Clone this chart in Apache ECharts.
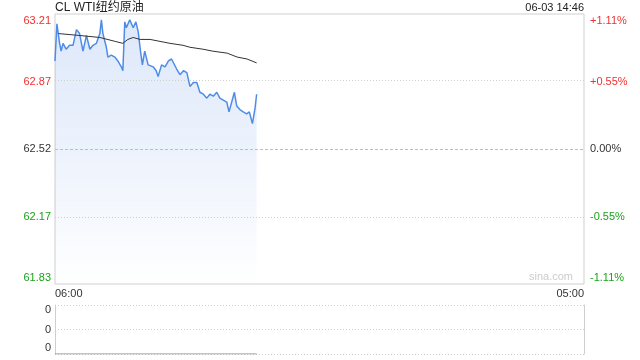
<!DOCTYPE html>
<html><head><meta charset="utf-8">
<script src="https://cdn.jsdelivr.net/npm/echarts@6/dist/echarts.min.js"></script>
<style>html,body{margin:0;padding:0;background:#fff}#c{width:640px;height:360px}</style>
</head><body><div id="c"></div>
<script>
// ---- data ----
const titleText = 'CL WTI纽约原油';
const stampText = '06-03 14:46';
const xLabels = ['06:00', '05:00'];
const priceLabels = ['61.83', '62.17', '62.52', '62.87', '63.21'];
const pctLabels = ['-1.11%', '-0.55%', '0.00%', '+0.55%', '+1.11%'];
const priceMin = 61.83, priceMax = 63.21, prevClose = 62.52;
const volLabels = ['0', '0', '0'];
const times = ['06:00','06:05','06:08','06:12','06:16','06:21','06:29','06:38','06:47','06:56','07:00','07:04','07:13','07:22','07:31','07:39','07:48','07:57','08:01','08:05','08:14','08:18','08:27','08:36','08:44','08:53','08:57','09:02','09:06','09:15','09:24','09:31','09:37','09:43','09:48','09:54','10:03','10:16','10:24','10:29','10:38','10:47','10:56','11:04','11:09','11:17','11:26','11:35','11:44','11:52','12:01','12:10','12:18','12:27','12:36','12:44','12:53','13:02','13:10','13:19','13:28','13:34','13:41','13:48','13:54','14:03','14:11','14:20','14:27','14:35','14:42','14:46'];
const prices = [62.97,63.16,63.17,63.06,63.02,63.06,63.03,63.05,63.05,63.13,63.14,63.11,63.02,63.10,63.03,63.05,63.06,63.11,63.18,63.11,63.04,62.99,63.00,62.99,62.97,62.94,62.92,63.17,63.14,63.18,63.14,63.17,63.12,63.02,62.95,63.02,62.95,62.94,62.92,62.89,62.95,62.94,62.97,62.98,62.99,62.93,62.90,62.92,62.91,62.84,62.86,62.86,62.81,62.80,62.78,62.80,62.79,62.81,62.78,62.77,62.76,62.71,62.76,62.81,62.74,62.72,62.71,62.70,62.71,62.65,62.73,62.80];
const avgTimes = ['06:09','07:05','07:57','08:37','08:57','09:10','09:24','09:42','10:08','11:00','11:34','11:52','12:26','12:52','13:29','13:55','14:21','14:46'];
const avgPrices = [63.11,63.10,63.09,63.07,63.06,63.08,63.09,63.08,63.08,63.06,63.05,63.04,63.03,63.02,63.01,62.99,62.98,62.96];
const volTimes = ['06:00', '14:46'];
const volValues = [0, 0];

// ---- helpers ----
function toMin(t) { const p = t.split(':').map(Number); let m = p[0] * 60 + p[1] - 360; if (m < 0) m += 1440; return m; }
const sessionLen = toMin('05:00');
const step = (priceMax - priceMin) / (priceLabels.length - 1);
const tickVals = priceLabels.map((_, i) => priceMin + i * step);
const idxOf = v => Math.round((v - priceMin) / step);
const FONT = 'Arial, "Liberation Sans", "Noto Sans CJK SC", sans-serif';
const RED = '#f23030', GREEN = '#1aa31a', DARK = '#333';

function labelRich(color) {
  return { fontSize: 11, fontFamily: FONT, color: color };
}
const rich = {
  rt: Object.assign(labelRich(RED), { padding: [13, 0, 0, 0] }),
  r: labelRich(RED),
  k: labelRich(DARK),
  g: labelRich(GREEN),
  gb: Object.assign(labelRich(GREEN), { padding: [0, 0, 13, 0] })
};
function styled(arr) {
  return function (v) {
    const i = idxOf(v); const s = arr[i];
    const n = arr.length - 1;
    if (i === n) return '{rt|' + s + '}';
    if (i === 0) return '{gb|' + s + '}';
    if (i === n / 2) return '{k|' + s + '}';
    return i > n / 2 ? '{r|' + s + '}' : '{g|' + s + '}';
  };
}

const dotted = { color: '#cfcfcf', width: 1, type: [1, 2] };
const gridLines = tickVals.slice(1, -1).map(v => ({
  yAxis: v,
  lineStyle: Math.abs(v - prevClose) < 1e-6 ? { color: '#bdbdbd', width: 1, type: [3, 2] } : dotted
}));

const chart = echarts.init(document.getElementById('c'), null, { renderer: 'canvas' });
chart.setOption({
  animation: false,
  textStyle: { fontFamily: FONT },
  graphic: [
    { type: 'text', left: 55, top: 2, style: { text: titleText, fontSize: 12, fontFamily: FONT, fill: '#222' } },
    { type: 'text', right: 56, top: 2, style: { text: stampText, fontSize: 11, fontFamily: FONT, fill: '#222', align: 'right' } },
    { type: 'text', right: 67, top: 271, style: { text: 'sina.com', fontSize: 11, fontFamily: FONT, fill: '#cccccc', align: 'right' } }
  ],
  grid: [
    { left: 55, right: 56, top: 14, height: 270, show: true, borderColor: '#cfcfcf', borderWidth: 1, backgroundColor: 'transparent' },
    { left: 55, right: 56, top: 305, height: 49 }
  ],
  xAxis: [
    { type: 'value', gridIndex: 0, min: 0, max: sessionLen, interval: sessionLen,
      axisLine: { show: false }, axisTick: { show: false }, splitLine: { show: false },
      axisLabel: { margin: 4, fontSize: 11, color: DARK, alignMinLabel: 'left', alignMaxLabel: 'right',
        formatter: v => (v === 0 ? xLabels[0] : xLabels[1]) } },
    { type: 'value', gridIndex: 1, min: 0, max: sessionLen, show: false }
  ],
  yAxis: [
    { type: 'value', gridIndex: 0, min: priceMin, max: priceMax, position: 'left',
      axisLine: { show: false }, axisTick: { show: false, customValues: tickVals }, splitLine: { show: false },
      axisLabel: { customValues: tickVals, margin: 4, formatter: styled(priceLabels), rich: rich } },
    { type: 'value', gridIndex: 0, min: priceMin, max: priceMax, position: 'right',
      axisLine: { show: false }, axisTick: { show: false, customValues: tickVals }, splitLine: { show: false },
      axisLabel: { customValues: tickVals, margin: 6, formatter: styled(pctLabels), rich: rich } },
    { type: 'value', gridIndex: 1, min: 0, max: 1, interval: 0.5, position: 'left',
      axisLine: { show: true, lineStyle: { color: '#cfcfcf' } }, axisTick: { show: false },
      splitLine: { show: true, lineStyle: dotted },
      axisLabel: { margin: 4, fontSize: 11, color: DARK,
        formatter: (v) => {
          const i = Math.round(v * 2); const s = volLabels[i];
          if (i === 2) return '{t|' + s + '}';
          if (i === 0) return '{b|' + s + '}';
          return s;
        },
        rich: { t: { fontSize: 11, color: DARK, padding: [10, 0, 0, 0] }, b: { fontSize: 11, color: DARK, padding: [0, 0, 12, 0] } } } },
    { type: 'value', gridIndex: 1, min: 0, max: 1, interval: 0.5, position: 'right',
      axisLine: { show: true, lineStyle: { color: '#cfcfcf' } }, axisTick: { show: false },
      splitLine: { show: false }, axisLabel: { show: false } }
  ],
  series: [
    { type: 'line', xAxisIndex: 0, yAxisIndex: 0, showSymbol: false, symbol: 'none', silent: true,
      data: times.map((t, i) => [toMin(t), prices[i]]),
      lineStyle: { color: '#4f8ce8', width: 1.5 },
      areaStyle: { color: new echarts.graphic.LinearGradient(0, 0, 0, 1, [
        { offset: 0, color: 'rgba(80,135,230,0.27)' },
        { offset: 0.5, color: 'rgba(80,135,230,0.15)' },
        { offset: 1, color: 'rgba(80,135,230,0.0)' }
      ]) },
      markLine: { silent: true, symbol: 'none', label: { show: false }, data: gridLines },
      z: 3 },
    { type: 'line', xAxisIndex: 0, yAxisIndex: 0, showSymbol: false, symbol: 'none', silent: true,
      data: avgTimes.map((t, i) => [toMin(t), avgPrices[i]]),
      lineStyle: { color: '#333', width: 1 }, z: 4 },
    { type: 'line', xAxisIndex: 1, yAxisIndex: 2, showSymbol: false, symbol: 'none', silent: true,
      data: volTimes.map((t, i) => [toMin(t), volValues[i]]),
      lineStyle: { color: '#8a8a8a', width: 1 }, z: 5 }
  ]
});
</script></body></html>
